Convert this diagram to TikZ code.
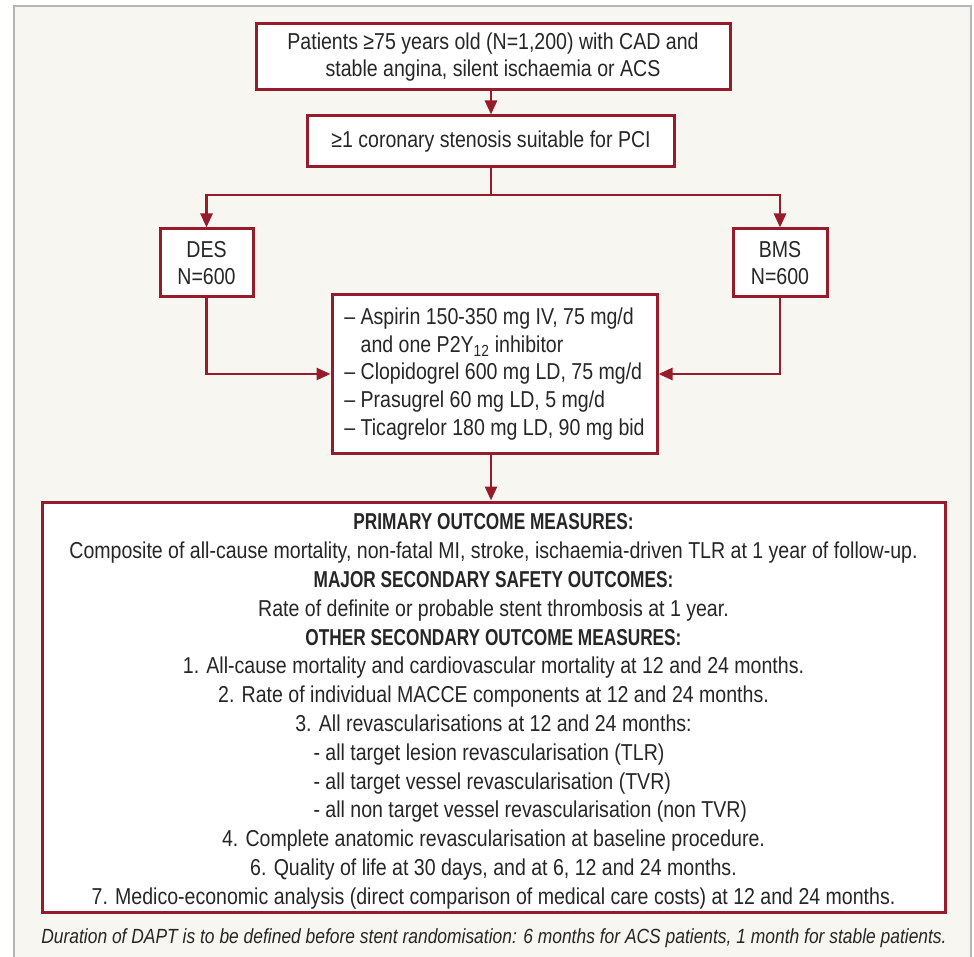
\documentclass[tikz,border=0pt]{standalone}
\usepackage{fontspec}
\setmainfont{Liberation Sans}[FakeStretch=0.85, BoldFeatures={FakeStretch=0.75}]
\usetikzlibrary{arrows.meta}
\definecolor{boxred}{RGB}{150,28,44}
\definecolor{panelbg}{RGB}{248,246,240}
\definecolor{panelrule}{RGB}{182,182,178}
\definecolor{ink}{RGB}{38,38,38}

\begin{document}
\begin{tikzpicture}
[
    x=1pt, y=-1pt,
    font=\fontsize{23}{27}\selectfont,
    box/.style={draw=boxred, line width=3pt, fill=white, inner sep=0pt, align=center, text=ink},
    link/.style={draw=boxred, line width=2.6pt},
    flow/.style={link, -{Triangle[length=14pt, width=12pt]}},
]
\useasboundingbox (0,0) rectangle (974,957);
\fill[white] (0,0) rectangle (974,957);
\draw[panelrule, fill=panelbg, line width=1.5pt] (14,6) rectangle (971,985);

\node [box, minimum width=474pt, minimum height=66pt] (patients) at (493,57)
{Patients ≥75 years old (N=1,200) with CAD and\\stable angina, silent ischaemia or ACS};
\node [box, minimum width=367pt, minimum height=51pt] (stenosis) at (491,141.5)
{≥1 coronary stenosis suitable for PCI};
\node [box, minimum width=93pt, minimum height=68pt] (des) at (206.5,263)
{DES\\N=600};
\node [box, minimum width=94pt, minimum height=68pt] (bms) at (780,263)
{BMS\\N=600};
\node [box, align=left, minimum width=325pt, minimum height=158pt, font=\fontsize{23}{27.6}\selectfont] (dapt) at (494.5,374)
{– Aspirin 150-350 mg IV, 75 mg/d\\
\hphantom{– }and one P2Y\textsubscript{12} inhibitor\\
– Clopidogrel 600 mg LD, 75 mg/d\\
– Prasugrel 60 mg LD, 5 mg/d\\
– Ticagrelor 180 mg LD, 90 mg bid};
\node [box, minimum width=903pt, minimum height=410pt, font=\fontsize{23}{28.8}\selectfont] (outcomes) at (493.5,707)
{\rule{0pt}{25pt}\textbf{PRIMARY OUTCOME MEASURES:}\\
Composite of all-cause mortality, non-fatal MI, stroke, ischaemia-driven TLR at 1 year of follow-up.\\
\textbf{MAJOR SECONDARY SAFETY OUTCOMES:}\\
Rate of definite or probable stent thrombosis at 1 year.\\
\textbf{OTHER SECONDARY OUTCOME MEASURES:}\\
1. All-cause mortality and cardiovascular mortality at 12 and 24 months.\\
2. Rate of individual MACCE components at 12 and 24 months.\\
3. All revascularisations at 12 and 24 months:\\
\makebox[360pt][l]{- all target lesion revascularisation (TLR)}\\
\makebox[360pt][l]{- all target vessel revascularisation (TVR)}\\
\makebox[360pt][l]{- all non target vessel revascularisation (non TVR)}\\
4. Complete anatomic revascularisation at baseline procedure.\\
6. Quality of life at 30 days, and at 6, 12 and 24 months.\\
7. Medico-economic analysis (direct comparison of medical care costs) at 12 and 24 months.};
\node [text=ink, font=\fontsize{20.5}{24}\itshape] (note) at (494,938)
{Duration of DAPT is to be defined before stent randomisation: 6 months for ACS patients, 1 month for stable patients.};

\coordinate (fork) at (491,195);
\draw[flow] (stenosis.north |- patients.south) -- (stenosis.north);
\draw[link] (stenosis) -- (fork);
\draw[flow] (fork) -| (des);
\draw[flow] (fork) -| (bms);
\draw[flow] (des) |- (dapt);
\draw[flow] (bms) |- (dapt);
\draw[flow] (stenosis |- dapt.south) -- (stenosis |- outcomes.north);
\end{tikzpicture}
\end{document}
